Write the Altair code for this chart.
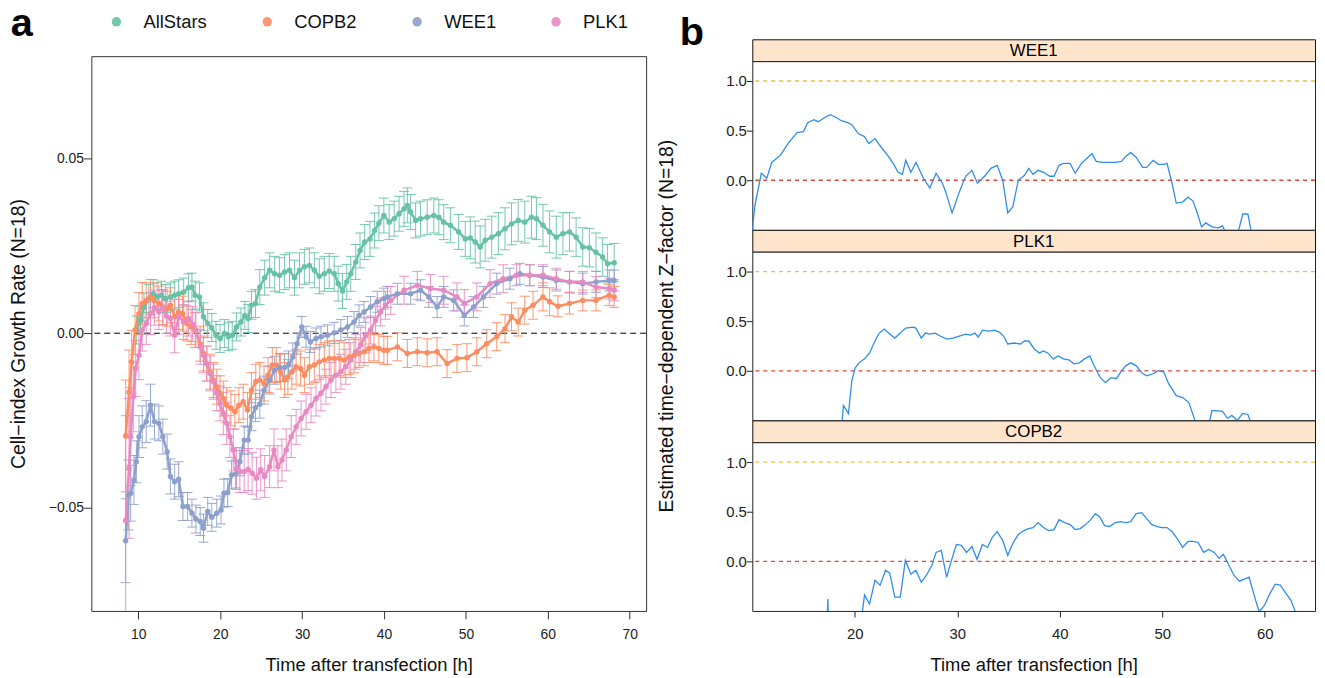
import altair as alt
import pandas as pd

FONT = "Liberation Sans"

# ---------------- panel a data: (time [h], growth rate, error half-width) ----------------
SERIES = ["AllStars", "COPB2", "WEE1", "PLK1"]
COLORS = ["#66C2A5", "#FC8D62", "#8DA0CB", "#E78AC3"]

ALLSTARS = [
    (9.80, 0.0009, 0.004), (10.28, 0.0037, 0.004), (10.69, 0.0075, 0.004), (11.29, 0.0099, 0.004),
    (11.82, 0.0113, 0.004), (12.30, 0.0104, 0.004), (12.83, 0.0109, 0.004), (13.31, 0.0099, 0.004),
    (13.92, 0.0104, 0.004), (14.44, 0.0109, 0.004), (14.93, 0.0113, 0.004), (15.54, 0.0118, 0.004),
    (16.14, 0.0130, 0.004), (16.55, 0.0132, 0.004), (16.95, 0.0109, 0.004), (17.47, 0.0104, 0.004),
    (17.96, 0.0047, 0.004), (18.48, 0.0028, 0.004), (18.97, 0.0016, 0.004), (19.49, -0.0006, 0.004),
    (19.98, -0.0015, 0.004), (20.51, -0.0001, 0.004), (21.00, -0.0010, 0.004), (21.47, -0.0006, 0.004),
    (22.00, 0.0018, 0.004), (22.53, 0.0032, 0.004), (23.01, 0.0051, 0.004), (23.41, 0.0042, 0.004),
    (23.82, 0.0080, 0.004), (24.30, 0.0085, 0.004), (24.83, 0.0132, 0.005), (25.43, 0.0159, 0.005),
    (26.04, 0.0180, 0.005), (26.65, 0.0170, 0.005), (27.25, 0.0166, 0.005), (27.86, 0.0175, 0.005),
    (28.46, 0.0180, 0.005), (29.07, 0.0159, 0.005), (29.68, 0.0180, 0.005), (30.28, 0.0190, 0.005),
    (30.89, 0.0194, 0.005), (31.49, 0.0180, 0.005), (32.10, 0.0163, 0.005), (32.71, 0.0170, 0.005),
    (33.31, 0.0178, 0.005), (33.92, 0.0170, 0.005), (34.40, 0.0142, 0.005), (34.93, 0.0121, 0.005),
    (35.45, 0.0147, 0.005), (35.94, 0.0170, 0.005), (36.55, 0.0204, 0.005), (37.07, 0.0237, 0.005),
    (37.64, 0.0261, 0.005), (38.28, 0.0270, 0.005), (38.85, 0.0294, 0.005), (39.37, 0.0315, 0.005),
    (39.98, 0.0337, 0.005), (40.63, 0.0318, 0.005), (41.24, 0.0328, 0.005), (41.84, 0.0342, 0.005),
    (42.45, 0.0356, 0.005), (42.85, 0.0366, 0.005), (43.25, 0.0347, 0.005), (43.86, 0.0323, 0.005),
    (44.46, 0.0328, 0.005), (45.27, 0.0332, 0.005), (46.08, 0.0337, 0.005), (46.69, 0.0332, 0.005),
    (47.29, 0.0318, 0.005), (48.10, 0.0309, 0.005), (49.11, 0.0290, 0.005), (49.92, 0.0270, 0.005),
    (50.53, 0.0273, 0.006), (51.13, 0.0261, 0.006), (51.74, 0.0247, 0.006), (52.35, 0.0266, 0.006),
    (53.15, 0.0275, 0.006), (53.96, 0.0285, 0.006), (54.77, 0.0299, 0.006), (55.57, 0.0313, 0.006),
    (56.38, 0.0323, 0.006), (57.19, 0.0318, 0.006), (58.00, 0.0332, 0.006), (58.61, 0.0328, 0.006),
    (59.41, 0.0309, 0.006), (60.22, 0.0290, 0.006), (61.03, 0.0275, 0.006), (61.84, 0.0285, 0.006),
    (62.65, 0.0290, 0.0055), (63.45, 0.0275, 0.0055), (64.26, 0.0247, 0.0055), (65.07, 0.0245, 0.0055),
    (65.88, 0.0232, 0.0055), (66.69, 0.0218, 0.0055), (67.29, 0.0199, 0.0055), (68.10, 0.0202, 0.0055),
]

COPB2 = [
    (8.46, -0.0294, 0.016), (8.87, -0.0168, 0.012), (9.19, -0.0082, 0.009), (9.60, 0.0009, 0.007),
    (10.08, 0.0056, 0.006), (10.48, 0.0085, 0.006), (10.97, 0.0094, 0.005), (11.49, 0.0104, 0.005),
    (11.90, 0.0094, 0.005), (12.51, 0.0085, 0.005), (12.99, 0.0075, 0.005), (13.52, 0.0070, 0.005),
    (13.92, 0.0080, 0.005), (14.44, 0.0047, 0.005), (14.93, 0.0061, 0.005), (15.41, 0.0056, 0.005),
    (15.94, 0.0028, 0.005), (16.46, 0.0018, 0.005), (16.95, 0.0009, 0.005), (17.56, -0.0030, 0.005),
    (17.96, -0.0058, 0.005), (18.36, -0.0087, 0.005), (18.77, -0.0110, 0.005), (19.17, -0.0134, 0.005),
    (19.58, -0.0153, 0.005), (19.98, -0.0172, 0.005), (20.38, -0.0187, 0.005), (20.79, -0.0206, 0.005),
    (21.31, -0.0215, 0.005), (21.80, -0.0225, 0.005), (22.28, -0.0206, 0.005), (22.81, -0.0196, 0.005),
    (23.33, -0.0220, 0.005), (23.82, -0.0163, 0.005), (24.34, -0.0139, 0.005), (24.83, -0.0134, 0.005),
    (25.35, -0.0144, 0.005), (25.84, -0.0120, 0.005), (26.36, -0.0091, 0.005), (26.85, -0.0091, 0.005),
    (27.37, -0.0110, 0.005), (27.86, -0.0134, 0.005), (28.26, -0.0125, 0.005), (28.75, -0.0110, 0.005),
    (29.27, -0.0096, 0.005), (29.80, -0.0101, 0.005), (30.28, -0.0120, 0.005), (30.89, -0.0096, 0.005),
    (31.49, -0.0091, 0.005), (32.10, -0.0082, 0.005), (32.71, -0.0077, 0.005), (33.31, -0.0072, 0.005),
    (33.92, -0.0072, 0.005), (34.53, -0.0072, 0.005), (35.13, -0.0077, 0.005), (35.74, -0.0068, 0.005),
    (36.34, -0.0063, 0.005), (36.95, -0.0058, 0.004), (37.56, -0.0053, 0.004), (38.16, -0.0044, 0.004),
    (38.77, -0.0039, 0.004), (39.37, -0.0044, 0.004), (39.98, -0.0049, 0.004), (40.42, -0.0049, 0.004),
    (41.64, -0.0039, 0.004), (42.85, -0.0058, 0.004), (44.06, -0.0053, 0.004), (45.27, -0.0056, 0.004),
    (46.48, -0.0053, 0.004), (47.70, -0.0087, 0.004), (48.91, -0.0072, 0.004), (50.12, -0.0070, 0.004),
    (51.33, -0.0053, 0.004), (52.54, -0.0030, 0.004), (53.76, -0.0010, 0.004), (54.77, 0.0013, 0.004),
    (55.57, 0.0047, 0.004), (56.38, 0.0032, 0.004), (57.19, 0.0066, 0.004), (58.20, 0.0080, 0.004),
    (59.41, 0.0104, 0.004), (60.22, 0.0090, 0.004), (61.23, 0.0077, 0.003), (62.65, 0.0085, 0.003),
    (64.26, 0.0094, 0.003), (65.88, 0.0094, 0.003), (67.49, 0.0109, 0.003), (68.10, 0.0104, 0.003),
]

WEE1 = [
    (8.46, -0.0594, 0.012), (8.79, -0.0463, 0.010), (9.07, -0.0458, 0.008), (9.47, -0.0420, 0.007),
    (9.76, -0.0368, 0.006), (10.08, -0.0296, 0.006), (10.48, -0.0268, 0.006), (10.97, -0.0253, 0.006),
    (11.49, -0.0206, 0.006), (11.98, -0.0253, 0.005), (12.51, -0.0258, 0.005), (12.99, -0.0296, 0.005),
    (13.52, -0.0339, 0.005), (13.92, -0.0410, 0.005), (14.44, -0.0425, 0.005), (14.93, -0.0418, 0.005),
    (15.45, -0.0496, 0.004), (16.02, -0.0496, 0.004), (16.55, -0.0515, 0.004), (17.03, -0.0532, 0.004),
    (17.56, -0.0539, 0.004), (17.96, -0.0558, 0.004), (18.48, -0.0510, 0.004), (18.97, -0.0527, 0.004),
    (19.58, -0.0515, 0.004), (20.10, -0.0506, 0.004), (20.46, -0.0458, 0.004), (20.91, -0.0456, 0.004),
    (21.39, -0.0406, 0.004), (21.88, -0.0403, 0.004), (22.40, -0.0368, 0.004), (22.93, -0.0306, 0.004),
    (23.41, -0.0306, 0.004), (23.82, -0.0239, 0.004), (24.30, -0.0213, 0.004), (24.83, -0.0203, 0.004),
    (25.35, -0.0163, 0.004), (26.04, -0.0134, 0.004), (26.65, -0.0106, 0.004), (27.25, -0.0098, 0.004),
    (27.86, -0.0098, 0.004), (28.34, -0.0091, 0.004), (28.87, -0.0068, 0.004), (29.39, -0.0030, 0.003),
    (29.96, 0.0018, 0.003), (30.48, -0.0010, 0.003), (31.01, -0.0025, 0.003), (31.70, -0.0015, 0.003),
    (32.30, -0.0010, 0.003), (33.11, -0.0006, 0.003), (33.92, 0.0001, 0.003), (34.73, 0.0009, 0.003),
    (35.54, 0.0018, 0.003), (36.34, 0.0032, 0.003), (36.95, 0.0051, 0.003), (37.56, 0.0061, 0.003),
    (38.36, 0.0075, 0.003), (39.17, 0.0090, 0.003), (39.98, 0.0099, 0.003), (40.42, 0.0104, 0.003),
    (41.64, 0.0113, 0.003), (43.25, 0.0113, 0.003), (44.46, 0.0123, 0.003), (45.47, 0.0104, 0.003),
    (46.48, 0.0075, 0.003), (47.29, 0.0104, 0.003), (48.50, 0.0094, 0.003), (49.80, 0.0051, 0.003),
    (50.93, 0.0075, 0.003), (52.14, 0.0104, 0.003), (53.76, 0.0142, 0.003), (55.37, 0.0156, 0.003),
    (56.58, 0.0170, 0.003), (57.80, 0.0166, 0.003), (59.41, 0.0161, 0.003), (61.03, 0.0151, 0.003),
    (62.65, 0.0147, 0.003), (64.26, 0.0142, 0.003), (65.88, 0.0147, 0.003), (67.49, 0.0151, 0.003),
    (68.10, 0.0151, 0.003),
]

PLK1 = [
    (8.46, -0.0536, 0.030), (8.87, -0.0387, 0.020), (9.07, -0.0296, 0.014), (9.39, -0.0182, 0.010),
    (9.68, -0.0101, 0.008), (10.08, -0.0063, 0.007), (10.48, 0.0009, 0.006), (10.97, 0.0028, 0.006),
    (11.49, 0.0056, 0.006), (11.98, 0.0073, 0.005), (12.51, 0.0061, 0.005), (12.99, 0.0073, 0.005),
    (13.43, 0.0049, 0.005), (13.92, 0.0042, 0.005), (14.44, -0.0006, 0.005), (14.93, 0.0047, 0.005),
    (15.54, 0.0032, 0.005), (16.14, 0.0042, 0.005), (16.63, 0.0026, 0.005), (17.03, 0.0009, 0.005),
    (17.56, -0.0039, 0.005), (17.96, -0.0063, 0.005), (18.36, -0.0087, 0.005), (18.77, -0.0115, 0.005),
    (19.17, -0.0139, 0.005), (19.58, -0.0172, 0.005), (19.98, -0.0201, 0.005), (20.38, -0.0230, 0.006),
    (20.79, -0.0258, 0.006), (21.19, -0.0296, 0.006), (21.60, -0.0334, 0.006), (22.00, -0.0387, 0.006),
    (22.40, -0.0396, 0.006), (22.93, -0.0396, 0.006), (23.41, -0.0390, 0.006), (23.90, -0.0401, 0.006),
    (24.42, -0.0415, 0.006), (24.95, -0.0391, 0.006), (25.43, -0.0410, 0.006), (26.04, -0.0382, 0.006),
    (26.57, -0.0334, 0.006), (27.05, -0.0382, 0.006), (27.54, -0.0363, 0.006), (28.06, -0.0334, 0.006),
    (28.67, -0.0296, 0.006), (29.27, -0.0268, 0.005), (29.88, -0.0244, 0.005), (30.48, -0.0225, 0.005),
    (31.09, -0.0206, 0.005), (31.70, -0.0187, 0.005), (32.30, -0.0172, 0.005), (32.91, -0.0153, 0.005),
    (33.52, -0.0134, 0.005), (34.12, -0.0120, 0.005), (34.73, -0.0110, 0.005), (35.33, -0.0096, 0.005),
    (35.94, -0.0077, 0.005), (36.55, -0.0053, 0.005), (37.15, -0.0034, 0.005), (37.76, -0.0006, 0.005),
    (38.36, 0.0009, 0.004), (38.97, 0.0037, 0.004), (39.58, 0.0061, 0.004), (40.18, 0.0080, 0.004),
    (40.83, 0.0094, 0.004), (42.45, 0.0123, 0.004), (44.06, 0.0137, 0.004), (45.68, 0.0128, 0.004),
    (47.29, 0.0123, 0.004), (48.91, 0.0104, 0.004), (49.80, 0.0085, 0.004), (51.33, 0.0104, 0.004),
    (52.95, 0.0142, 0.004), (54.56, 0.0156, 0.004), (56.18, 0.0166, 0.003), (57.80, 0.0166, 0.003),
    (59.41, 0.0166, 0.003), (61.03, 0.0156, 0.003), (62.65, 0.0147, 0.003), (64.26, 0.0147, 0.003),
    (65.88, 0.0132, 0.003), (67.49, 0.0128, 0.003), (68.10, 0.0123, 0.003),
]

X_TICKS_A = [10, 20, 30, 40, 50, 60, 70]
Y_TICKS_A = [-0.05, 0.0, 0.05]
X_DOMAIN_A = [4.27, 72.0]
Y_DOMAIN_A = [-0.0795, 0.0793]
ZERO_A = [0.0]

# ---------------- panel b data: (time [h], Z-factor) ----------------
PANELS_B = ["WEE1", "PLK1", "COPB2"]

Z_WEE1 = [
    (10.0, -0.50), (10.26, -0.25), (10.88, 0.07), (11.41, 0.02), (11.90, 0.18), (12.73, 0.25),
    (13.55, 0.38), (14.37, 0.48), (14.99, 0.49), (15.40, 0.58), (16.01, 0.61), (16.42, 0.59),
    (17.04, 0.63), (17.58, 0.66), (18.07, 0.64), (18.68, 0.60), (19.30, 0.58), (19.71, 0.56),
    (20.33, 0.47), (20.95, 0.44), (21.36, 0.37), (21.97, 0.42), (22.59, 0.33), (23.21, 0.25),
    (23.74, 0.17), (24.23, 0.08), (24.64, 0.06), (24.97, 0.20), (25.47, 0.08), (25.96, 0.18),
    (26.70, 0.02), (27.32, -0.08), (27.93, 0.07), (28.55, -0.03), (28.88, -0.12), (29.49, -0.33),
    (30.19, -0.12), (30.81, 0.04), (31.43, 0.10), (31.96, -0.03), (32.66, 0.04), (33.28, 0.12),
    (33.89, 0.15), (34.43, 0.00), (34.92, -0.33), (35.41, -0.27), (35.95, 0.00), (36.56, 0.05),
    (36.97, 0.12), (37.39, 0.06), (37.88, 0.10), (38.41, 0.08), (39.03, 0.04), (39.44, 0.04),
    (39.93, 0.15), (40.35, 0.17), (41.00, 0.17), (41.50, 0.07), (42.11, 0.17), (42.73, 0.23),
    (43.14, 0.27), (43.55, 0.19), (44.17, 0.18), (44.78, 0.18), (45.40, 0.18), (46.02, 0.19),
    (46.43, 0.24), (46.92, 0.28), (47.46, 0.23), (48.07, 0.13), (48.48, 0.13), (49.10, 0.20),
    (49.63, 0.16), (50.13, 0.16), (50.46, 0.17), (50.95, -0.03), (51.36, -0.23), (51.98, -0.22),
    (52.51, -0.17), (53.00, -0.21), (53.41, -0.33), (53.83, -0.47), (54.24, -0.43), (54.85, -0.47),
    (55.47, -0.48), (55.88, -0.46), (56.29, -0.55), (57.10, -0.65), (57.85, -0.34), (58.35, -0.34),
    (58.68, -0.52), (58.96, -0.68),
]

Z_PLK1 = [
    (18.60, -0.70), (18.89, -0.35), (19.38, -0.43), (19.71, -0.10), (20.04, 0.03), (20.41, 0.08),
    (20.95, 0.12), (21.44, 0.18), (21.97, 0.30), (22.38, 0.38), (22.88, 0.42), (23.41, 0.37),
    (23.90, 0.33), (24.44, 0.38), (24.97, 0.43), (25.67, 0.44), (25.96, 0.43), (26.49, 0.33),
    (26.90, 0.38), (27.32, 0.37), (27.85, 0.38), (28.34, 0.35), (28.96, 0.32), (29.58, 0.33),
    (30.19, 0.35), (30.81, 0.37), (31.30, 0.36), (31.71, 0.38), (32.04, 0.34), (32.45, 0.41),
    (33.07, 0.40), (33.60, 0.41), (34.10, 0.39), (34.51, 0.35), (34.92, 0.27), (35.54, 0.28),
    (36.15, 0.27), (36.56, 0.30), (36.97, 0.30), (37.51, 0.22), (38.00, 0.18), (38.41, 0.20),
    (38.82, 0.18), (39.36, 0.12), (39.85, 0.15), (40.35, 0.12), (40.88, 0.11), (41.37, 0.07),
    (41.91, 0.08), (42.40, 0.12), (42.93, 0.15), (43.35, 0.05), (43.96, -0.07), (44.46, -0.12),
    (44.99, -0.07), (45.52, -0.08), (46.02, 0.00), (46.43, 0.05), (46.92, 0.08), (47.46, 0.05),
    (47.99, -0.02), (48.48, -0.05), (49.10, -0.03), (49.63, 0.00), (50.13, -0.01), (50.62, -0.13),
    (51.36, -0.25), (51.98, -0.27), (52.59, -0.32), (53.09, -0.47), (53.42, -0.58), (54.24, -0.67),
    (54.85, -0.40), (55.88, -0.41), (56.37, -0.48), (56.78, -0.45), (57.32, -0.50), (57.85, -0.43),
    (58.35, -0.44), (58.68, -0.53), (58.96, -0.68),
]

Z_COPB2 = [
    (17.20, -0.90), (17.37, -0.38), (17.50, -0.90), (20.62, -0.60), (20.95, -0.34), (21.44, -0.43),
    (21.97, -0.19), (22.47, -0.24), (23.00, -0.09), (23.41, -0.12), (23.90, -0.36), (24.44, -0.36),
    (24.93, 0.01), (25.47, -0.13), (25.96, -0.09), (26.49, -0.21), (26.99, -0.14), (27.52, -0.04),
    (27.93, 0.09), (28.43, 0.11), (28.96, -0.16), (29.37, -0.01), (29.91, 0.17), (30.40, 0.16),
    (30.89, 0.09), (31.43, 0.15), (31.92, 0.02), (32.45, 0.17), (32.95, 0.14), (33.40, 0.24),
    (33.89, 0.30), (34.43, 0.21), (34.92, 0.06), (35.41, 0.18), (35.95, 0.27), (36.48, 0.31),
    (36.97, 0.33), (37.39, 0.34), (37.88, 0.39), (38.41, 0.34), (38.91, 0.31), (39.44, 0.32),
    (39.93, 0.42), (40.47, 0.39), (41.00, 0.37), (41.50, 0.32), (41.99, 0.33), (42.52, 0.37),
    (43.02, 0.42), (43.47, 0.48), (43.88, 0.45), (44.37, 0.36), (44.87, 0.35), (45.40, 0.39),
    (45.93, 0.40), (46.43, 0.39), (46.92, 0.40), (47.46, 0.48), (47.99, 0.49), (48.48, 0.43),
    (48.98, 0.37), (49.51, 0.35), (50.00, 0.34), (50.46, 0.34), (50.95, 0.30), (51.45, 0.23),
    (51.98, 0.14), (52.51, 0.20), (53.00, 0.20), (53.50, 0.19), (54.03, 0.09), (54.53, 0.12),
    (55.06, 0.09), (55.55, 0.03), (55.96, 0.07), (56.50, -0.04), (56.99, -0.14), (57.52, -0.20),
    (58.01, -0.18), (58.47, -0.16), (58.96, -0.34), (59.45, -0.51), (59.99, -0.44), (60.48, -0.33),
    (61.02, -0.23), (61.51, -0.24), (62.05, -0.32), (62.54, -0.39), (62.95, -0.50), (63.30, -0.61),
]

X_TICKS_B = [20, 30, 40, 50, 60]
Y_TICKS_B = [0.0, 0.5, 1.0]
X_DOMAIN_B = [10, 64.9]
Y_DOMAIN_B = [-0.5, 1.2]
REF_LEVELS = [1.0, 0.0]
REF_COLORS = ["#F4B942", "#E8403A"]
STRIP_FILL = "#FFE5CC"
LINE_BLUE = "#2F8DEB"

# ======================= panel a =======================
rows = []
for name, pts in zip(SERIES, (ALLSTARS, COPB2, WEE1, PLK1)):
    for t, v, e in pts:
        rows.append({"series": name, "t": t, "v": v, "lo": round(v - e, 5), "hi": round(v + e, 5)})
df_a = pd.DataFrame(rows)

WA, HA = 559, 559
xs_a = alt.Scale(domain=X_DOMAIN_A, nice=False, zero=False)
ys_a = alt.Scale(domain=Y_DOMAIN_A, nice=False, zero=False)
cs_a = alt.Scale(domain=SERIES, range=COLORS)
x_axis_a = alt.Axis(values=X_TICKS_A, format="d", title="Time after transfection [h]", grid=False,
                    domain=False, tickSize=8, tickColor="#333", labelPadding=8.5, labelFontSize=14,
                    labelColor="#222", titleFontSize=18.5, titleFontWeight="normal", titleColor="#111",
                    titleY=54, titleBaseline="middle")
y_axis_a = alt.Axis(values=Y_TICKS_A, format=".2f", title="Cell−index Growth Rate (N=18)", grid=False,
                    domain=False, tickSize=8, tickColor="#333", labelPadding=0, labelFontSize=14,
                    labelColor="#222", titleFontSize=19.5, titleFontWeight="normal", titleColor="#111",
                    titleX=-73, titleY=HA / 2, titleBaseline="middle", titleAngle=270)
legend_a = alt.Legend(orient="none", direction="horizontal", legendX=16, legendY=-27,
                      title=None, symbolType="circle", symbolSize=90,
                      symbolStrokeWidth=0, labelFont=FONT, labelFontSize=18.5,
                      labelColor="#111", labelOffset=18, columnPadding=51, padding=0)

X_A = alt.X("t:Q", scale=xs_a, axis=x_axis_a)
COL_A = alt.Color("series:N", scale=cs_a, legend=legend_a)

base_a = alt.Chart(df_a)
zero_a = alt.Chart(pd.DataFrame({"v": ZERO_A})).mark_rule(
    color="black", strokeDash=[6, 4], strokeWidth=1).encode(y=alt.Y("v:Q", scale=ys_a, axis=y_axis_a))
err_a = base_a.mark_rule(strokeWidth=1, clip=True, opacity=0.9).encode(
    x=X_A, y=alt.Y("lo:Q", scale=ys_a, axis=y_axis_a), y2="hi:Q", color=COL_A)
cap_lo = base_a.mark_rule(strokeWidth=1, clip=True, xOffset=-5, x2Offset=5, opacity=0.9).encode(
    x=X_A, x2="t:Q", y=alt.Y("lo:Q", scale=ys_a, axis=y_axis_a), color=COL_A)
cap_hi = base_a.mark_rule(strokeWidth=1, clip=True, xOffset=-5, x2Offset=5, opacity=0.9).encode(
    x=X_A, x2="t:Q", y=alt.Y("hi:Q", scale=ys_a, axis=y_axis_a), color=COL_A)
line_a = base_a.mark_line(strokeWidth=2.5, clip=True).encode(
    x=X_A, y=alt.Y("v:Q", scale=ys_a, axis=y_axis_a), color=COL_A, order="t:Q")
pts_a = base_a.mark_circle(size=30, opacity=1, clip=True).encode(
    x=X_A, y=alt.Y("v:Q", scale=ys_a, axis=y_axis_a), color=COL_A)

panel_a = alt.layer(zero_a, err_a, cap_lo, cap_hi, line_a, pts_a).properties(
    width=WA, height=HA, view=alt.ViewBackground(stroke="#333", strokeWidth=1, fill="white"))

spacer_a = alt.Chart(pd.DataFrame({"lab": ["a"]})).mark_text(
    font=FONT, fontSize=40, fontWeight="bold", color="black", align="center", baseline="alphabetic"
).encode(text="lab:N", x=alt.value(-70), y=alt.value(-3)).properties(
    width=WA, height=17, view=alt.ViewBackground(stroke="transparent"))

col_a = alt.vconcat(spacer_a, panel_a, spacing=0, bounds="flush")

# ======================= panel b =======================
WB, HB, HS = 567, 170, 22
xs_b = alt.Scale(domain=X_DOMAIN_B, nice=False, zero=False)
ys_b = alt.Scale(domain=Y_DOMAIN_B, nice=False, zero=False)


def y_axis_b(with_title):
    kw = dict(values=Y_TICKS_B, format=".1f", grid=False, domain=False, tickSize=6, tickColor="#222",
              labelPadding=0, labelFontSize=15, labelColor="#222", titleFontSize=19.5,
              titleFontWeight="normal", titleColor="#111")
    if with_title:
        kw.update(title="Estimated time−dependent Z−factor (N=18)", titleX=-86, titleY=74.5,
                  titleBaseline="middle", titleAngle=270)
    else:
        kw.update(title=None)
    return alt.Axis(**kw)


def x_axis_b():
    return alt.Axis(values=X_TICKS_B, format="d", title="Time after transfection [h]", grid=False,
                    domain=False, tickSize=6, tickColor="#222", labelPadding=10, labelFontSize=15,
                    labelColor="#222", titleFontSize=18.5, titleFontWeight="normal", titleColor="#111",
                    titleY=54, titleBaseline="middle")


def z_plot(pts, bottom, with_title):
    df = pd.DataFrame(pts, columns=["t", "z"])
    xax = x_axis_b() if bottom else None
    yax = y_axis_b(with_title)
    refs = alt.Chart(pd.DataFrame({"z": REF_LEVELS, "c": REF_COLORS})).mark_rule(
        strokeDash=[4, 4], strokeWidth=1.3).encode(
        y=alt.Y("z:Q", scale=ys_b, axis=yax), color=alt.Color("c:N", scale=None))
    line = alt.Chart(df).mark_line(color=LINE_BLUE, strokeWidth=1.3, clip=True).encode(
        x=alt.X("t:Q", scale=xs_b, axis=xax), y=alt.Y("z:Q", scale=ys_b, axis=yax), order="t:Q")
    return alt.layer(refs, line).properties(
        width=WB, height=HB, view=alt.ViewBackground(stroke="#222", strokeWidth=1, fill="white"))


def strip(name, panel_label=None):
    txt = alt.Chart(pd.DataFrame({"lab": [name]})).mark_text(
        font=FONT, fontSize=17, color="black", align="center", baseline="middle"
    ).encode(text="lab:N", x=alt.value(WB / 2), y=alt.value(HS / 2 + 1))
    layers = [txt]
    if panel_label is not None:
        lab = alt.Chart(pd.DataFrame({"lab": [panel_label]})).mark_text(
            font=FONT, fontSize=40, fontWeight="bold", color="black", align="center", baseline="alphabetic"
        ).encode(text="lab:N", x=alt.value(-61), y=alt.value(6))
        layers.append(lab)
    return alt.layer(*layers).properties(
        width=WB, height=HS, view=alt.ViewBackground(fill=STRIP_FILL, stroke="#111", strokeWidth=1))


col_b = alt.vconcat(
    strip(PANELS_B[0], "b"), z_plot(Z_WEE1, False, False),
    strip(PANELS_B[1]), z_plot(Z_PLK1, False, True),
    strip(PANELS_B[2]), z_plot(Z_COPB2, True, False),
    spacing=0, bounds="flush",
)

# nested columns count as zero width in a flush layout, so spacing = panel-a width + gap
chart = alt.hconcat(col_a, col_b, spacing=WA + 107, bounds="flush").properties(
    padding={"left": 0, "top": -7, "right": 0, "bottom": 0}
).configure_view(stroke="transparent").configure_axis(labelFont=FONT, titleFont=FONT).configure_text(font=FONT)

chart.save("out.html", embed_options={"renderer": "svg", "actions": False})
